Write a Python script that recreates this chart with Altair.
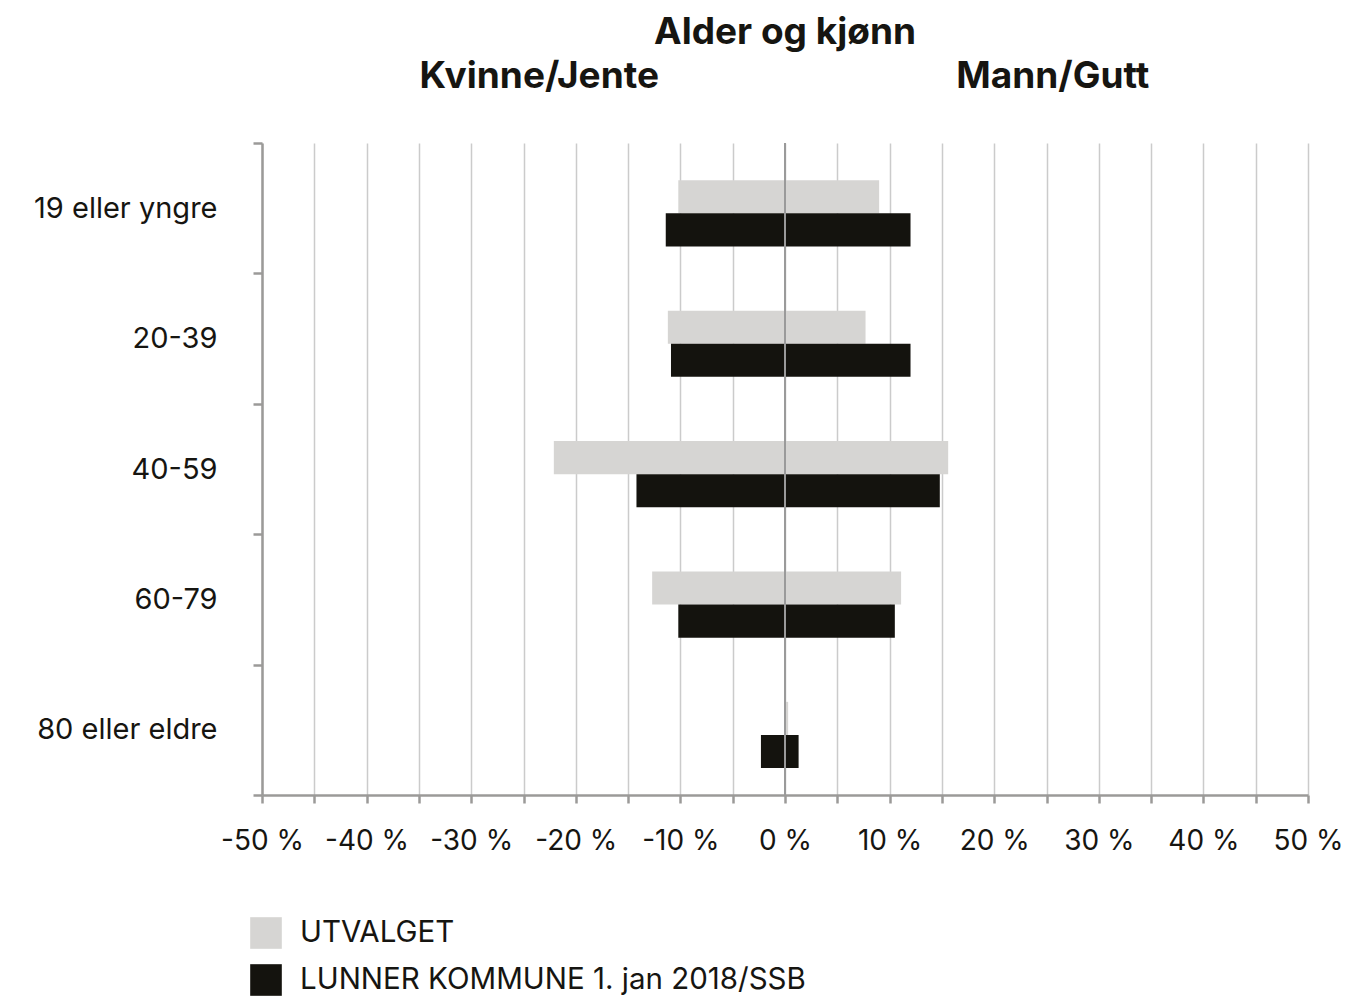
import altair as alt
import pandas as pd

# ---- data ----
age_groups = ["19 eller yngre", "20-39", "40-59", "60-79", "80 eller eldre"]
series = ["UTVALGET", "LUNNER KOMMUNE 1. jan 2018/SSB"]
utvalget_kvinne = [10.2, 11.2, 22.1, 12.7, 0.0]
utvalget_mann = [9.0, 7.7, 15.6, 11.1, 0.3]
lunner_kvinne = [11.4, 10.9, 14.2, 10.2, 2.3]
lunner_mann = [12.0, 12.0, 14.8, 10.5, 1.3]
x_ticks = list(range(-50, 55, 5))
chart_title = "Alder og kjønn"
left_label = "Kvinne/Jente"
right_label = "Mann/Gutt"
colors = ["#d6d5d3", "#14130e"]

rows = []
for i, g in enumerate(age_groups):
    rows.append({"alder": g, "serie": series[0],
                 "kvinne": -utvalget_kvinne[i], "mann": utvalget_mann[i]})
    rows.append({"alder": g, "serie": series[1],
                 "kvinne": -lunner_kvinne[i], "mann": lunner_mann[i]})
df = pd.DataFrame(rows)

FONT = "Inter"
AXIS_GRAY = "#9b9a98"
TEXT = "#161511"

x_scale = alt.Scale(domain=[-50, 50], nice=False, zero=False)

bars = alt.Chart(df).mark_bar().encode(
    y=alt.Y("alder:N", sort=age_groups,
            scale=alt.Scale(paddingInner=0, paddingOuter=0),
            axis=alt.Axis(title=None, tickBand="extent", grid=False,
                          domainColor=AXIS_GRAY, domainWidth=2.5,
                          tickColor=AXIS_GRAY, tickWidth=2.5, tickSize=9,
                          labelFont=FONT, labelFontSize=29, labelColor=TEXT,
                          labelPadding=36, labelLimit=300)),
    yOffset=alt.YOffset("serie:N", sort=series,
                        scale=alt.Scale(paddingInner=0, paddingOuter=0.97, align=0.58)),
    x=alt.X("kvinne:Q", scale=x_scale,
            axis=alt.Axis(title=None, values=x_ticks,
                          labelExpr="datum.value % 10 == 0 ? (datum.value < 0 ? '-' : '') + abs(datum.value) + ' %' : ''",
                          grid=True, gridColor="#cbcbcb", gridWidth=1.5,
                          domainColor=AXIS_GRAY, domainWidth=2.5,
                          tickColor=AXIS_GRAY, tickWidth=2.5, tickSize=8,
                          labelFont=FONT, labelFontSize=28, labelColor=TEXT,
                          labelPadding=24, labelFlush=False, labelOverlap=False)),
    x2="mann:Q",
    color=alt.Color("serie:N", sort=series,
                    scale=alt.Scale(domain=series, range=colors),
                    legend=alt.Legend(title=None, orient="none",
                                      legendX=-12, legendY=774,
                                      direction="vertical",
                                      symbolType="square", symbolSize=1000,
                                      symbolStrokeWidth=0,
                                      labelFont=FONT,
                                      labelFontSize=29.5, labelColor=TEXT,
                                      labelOffset=18, rowPadding=15,
                                      labelLimit=800)),
)

zero = alt.Chart(pd.DataFrame({"v": [0]})).mark_rule(
    color="#9a9a9a", strokeWidth=2
).encode(x=alt.X("v:Q", scale=x_scale))

left_txt = alt.Chart(pd.DataFrame({"t": [left_label]})).mark_text(
    font=FONT, fontSize=37, fontWeight="bold", color=TEXT, baseline="middle"
).encode(x=alt.datum(-23.5, scale=x_scale), y=alt.value(-66), text="t:N")

right_txt = alt.Chart(pd.DataFrame({"t": [right_label]})).mark_text(
    font=FONT, fontSize=37, fontWeight="bold", color=TEXT, baseline="middle"
).encode(x=alt.datum(25.6, scale=x_scale), y=alt.value(-66), text="t:N")

chart = alt.layer(bars, zero, left_txt, right_txt).properties(
    width=1046, height=652,
    title=alt.Title(chart_title, font=FONT, fontSize=37, fontWeight="bold",
                    color=TEXT, anchor="middle", offset=6),
    padding={"left": 254, "top": 135, "right": 45, "bottom": 202},
    autosize=alt.AutoSizeParams(type="none"),
).configure_view(stroke=None)

chart.save("out.html", embed_options={"renderer": "svg", "actions": False})
